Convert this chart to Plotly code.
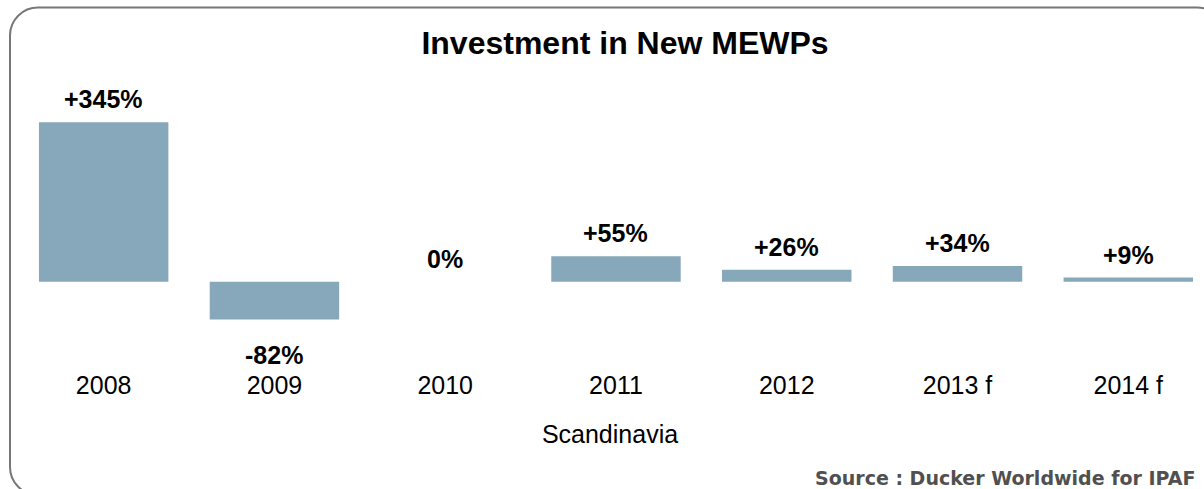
import plotly.graph_objects as go

# ---- data ----
categories = ["2008", "2009", "2010", "2011", "2012", "2013 f", "2014 f"]
values = [345, -82, 0, 55, 26, 34, 9]
labels = ["+345%", "-82%", "0%", "+55%", "+26%", "+34%", "+9%"]
title_text = "Investment in New MEWPs"
axis_title = "Scandinavia"
source_text = "Source : Ducker Worldwide for IPAF"

W, H = 1204, 489
ML, MR, MT, MB = 20, 4, 100, 121
PW, PH = W - ML - MR, H - MT - MB

def px(x):
    return (x - ML) / PW

def py(y):
    return (H - MB - y) / PH

BAR = "#87A7BA"
FONT = "Liberation Sans, Arial, sans-serif"

fig = go.Figure()
fig.add_trace(go.Bar(x=categories, y=values, marker=dict(color=BAR, line=dict(width=0)),
                     hoverinfo="skip"))

for i, (v, t) in enumerate(zip(values, labels)):
    fig.add_annotation(x=i, y=v, xref="x", yref="y", text=f"<b>{t}</b>", showarrow=False,
                       xanchor="center", yanchor="middle",
                       yshift=23 if v >= 0 else -35,
                       font=dict(family=FONT, size=25, color="black"))

fig.add_annotation(xref="paper", yref="paper", x=px(1197), y=py(478),
                   xanchor="right", yanchor="middle", showarrow=False,
                   text=f"<b>{source_text}</b>",
                   font=dict(family="DejaVu Sans, Verdana, sans-serif", size=19, color="#505050"))

# rounded border
def rounded_path(x0, y0, x1, y1, r):
    k = 0.5523 * r
    pts = []
    pts.append(f"M {px(x0 + r)},{py(y0)}")
    pts.append(f"L {px(x1 - r)},{py(y0)}")
    pts.append(f"C {px(x1 - r + k)},{py(y0)} {px(x1)},{py(y0 + r - k)} {px(x1)},{py(y0 + r)}")
    pts.append(f"L {px(x1)},{py(y1 - r)}")
    pts.append(f"C {px(x1)},{py(y1 - r + k)} {px(x1 - r + k)},{py(y1)} {px(x1 - r)},{py(y1)}")
    pts.append(f"L {px(x0 + r)},{py(y1)}")
    pts.append(f"C {px(x0 + r - k)},{py(y1)} {px(x0)},{py(y1 - r + k)} {px(x0)},{py(y1 - r)}")
    pts.append(f"L {px(x0)},{py(y0 + r)}")
    pts.append(f"C {px(x0)},{py(y0 + r - k)} {px(x0 + r - k)},{py(y0)} {px(x0 + r)},{py(y0)} Z")
    return " ".join(pts)

fig.add_shape(type="path", xref="paper", yref="paper",
              path=rounded_path(10, 7.5, 1225, 495, 28),
              line=dict(color="#777777", width=2), fillcolor="rgba(0,0,0,0)", layer="above")

fig.update_layout(
    width=W, height=H,
    margin=dict(l=ML, r=MR, t=MT, b=MB, pad=0),
    paper_bgcolor="white", plot_bgcolor="white",
    bargap=0.242, showlegend=False,
    title=dict(text=f"<b>{title_text}</b>", x=625 / W, xanchor="center",
               y=1 - 43 / H, yanchor="middle", yref="container",
               font=dict(family=FONT, size=32, color="black")),
    xaxis=dict(type="category", categoryorder="array", categoryarray=categories,
               range=[-0.49, 6.42], showgrid=False, zeroline=False, showline=False,
               ticks="", tickfont=dict(family=FONT, size=25, color="black"),
               title=dict(text=axis_title, font=dict(family=FONT, size=25, color="black"),
                          standoff=27)),
    yaxis=dict(range=[-186.8, 393.3], visible=False, showgrid=False, zeroline=False),
    font=dict(family=FONT),
)

fig.write_html("out.html", config={"displayModeBar": False},
               post_script="document.body.style.margin='0';document.body.style.overflow='hidden';")
